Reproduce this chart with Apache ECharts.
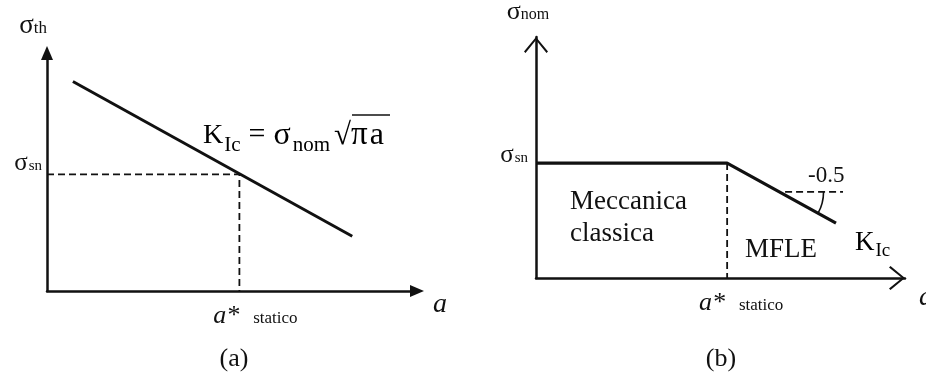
<!DOCTYPE html>
<html>
<head>
<meta charset="utf-8">
<script src="https://cdn.jsdelivr.net/npm/echarts@6/dist/echarts.min.js"></script>
<style>
  html, body { margin: 0; padding: 0; background: #fff; }
  #chart { width: 926px; height: 379px; }
</style>
</head>
<body>
<div id="chart"></div>
<script>
// (a) threshold stress versus crack size
const aLineX = [0.7, 8.25];
const aLineY = [8.8, 2.3];
const aStar = 5.2;          // critical static crack size
const aSigmaSn = 4.9;       // material strength level

// (b) nominal strength: plateau, then the LEFM branch
const bCurveX = [0, 5.18, 8.13];
const bCurveY = [4.77, 4.77, 2.28];
const bSlopeRefX = [6.75, 8.32];
const bSlopeRefY = [3.57, 3.57];
const bAngleMark = [6.6, 3.57];   // vertex of the slope angle

// tick labels and captions
const yTickLabel = ['σ', 'sn'];
const xTickLabel = ['a*', 'statico'];
const regionLabels = ['Meccanica\nclassica', 'MFLE'];
const slopeLabel = '-0.5';
const panelTags = ['(a)', '(b)'];

const SERIF = '"Liberation Serif", "Times New Roman", serif';
const INK = '#111';
const pairs = (xs, ys) => xs.map((x, i) => [x, ys[i]]);
// vertical centre of a line of text whose baseline sits at `baseline`
const mid = (baseline, size) => baseline - 0.3 * size;

const chart = echarts.init(document.getElementById('chart'), null, { renderer: 'canvas' });

const sigmaRich = {
  s: { fontFamily: SERIF, fontSize: 25, color: INK },
  sub: { fontFamily: SERIF, fontSize: 15, color: INK, padding: [6, 0, 0, 1] }
};
const starRich = {
  a: { fontFamily: SERIF, fontSize: 26, fontStyle: 'italic', color: INK },
  st: { fontFamily: SERIF, fontSize: 17, color: INK, padding: [6, 0, 0, 14] }
};
const chevron = 'path://M12,0 L24,14.5 L22.5,16 L12,3 L1.5,16 L0,14.5 Z';

function baseAxis(gridIndex) {
  return {
    type: 'value', gridIndex, min: 0, max: 10,
    splitLine: { show: false }, axisTick: { show: false }
  };
}
function crackName(padTop) {
  return {
    name: 'a', nameLocation: 'end',
    nameTextStyle: { fontFamily: SERIF, fontStyle: 'italic', fontSize: 28, color: INK,
      verticalAlign: 'top', lineHeight: 28, padding: [padTop, 0, 0, 0] }
  };
}

const option = {
  backgroundColor: '#fff',
  animation: false,
  grid: [
    { left: 47, top: 53, width: 370, height: 238, outerBoundsMode: 'none', containLabel: false },
    { left: 536, top: 37, width: 369, height: 241, outerBoundsMode: 'none', containLabel: false }
  ],
  xAxis: [
    Object.assign(baseAxis(0), crackName(0), {
      nameGap: 16,
      axisLine: { show: true, onZero: false, symbol: ['none', 'triangle'], symbolSize: [12, 14],
        lineStyle: { color: INK, width: 2.5 } },
      axisLabel: { customValues: [aStar], margin: 12, padding: [0, 0, 0, 32],
        formatter: () => '{a|' + xTickLabel[0] + '}{st|' + xTickLabel[1] + '}', rich: starRich }
    }),
    Object.assign(baseAxis(1), crackName(6), {
      nameGap: 14,
      axisLine: { show: true, onZero: false, symbol: ['none', chevron], symbolSize: [24, 16],
        symbolOffset: [0, -8], lineStyle: { color: INK, width: 2.5 } },
      axisLabel: { customValues: [bCurveX[1]], margin: 12, padding: [0, 0, 0, 28],
        formatter: () => '{a|' + xTickLabel[0] + '}{st|' + xTickLabel[1] + '}', rich: starRich }
    })
  ],
  yAxis: [
    Object.assign(baseAxis(0), {
      axisLine: { show: true, onZero: false, symbol: ['none', 'triangle'], symbolSize: [12, 14],
        lineStyle: { color: INK, width: 2.5 } },
      axisLabel: { customValues: [aSigmaSn], margin: 5, padding: [0, 0, 22, 0],
        formatter: () => '{s|' + yTickLabel[0] + '}{sub|' + yTickLabel[1] + '}', rich: sigmaRich },
      name: '{s|σ}{t|th}', nameLocation: 'end', nameGap: 14,
      nameTextStyle: { align: 'right', rich: {
        s: { fontFamily: SERIF, fontSize: 27, color: INK },
        t: { fontFamily: SERIF, fontSize: 17, color: INK, padding: [6, 0, 0, 0] }
      } }
    }),
    Object.assign(baseAxis(1), {
      axisLine: { show: true, onZero: false, symbol: ['none', chevron], symbolSize: [24, 16],
        symbolOffset: [0, -8], lineStyle: { color: INK, width: 2.5 } },
      axisLabel: { customValues: [bCurveY[1]], margin: 8, padding: [0, 0, 16, 0],
        formatter: () => '{s|' + yTickLabel[0] + '}{sub|' + yTickLabel[1] + '}', rich: sigmaRich },
      name: '{s|σ}{t|nom}', nameLocation: 'end', nameGap: 12,
      nameTextStyle: { align: 'center', padding: [0, 16, 0, 0], rich: {
        s: { fontFamily: SERIF, fontSize: 26, color: INK },
        t: { fontFamily: SERIF, fontSize: 16, color: INK, padding: [6, 0, 0, 0] }
      } }
    })
  ],
  series: [
    {
      type: 'line', xAxisIndex: 0, yAxisIndex: 0, data: pairs(aLineX, aLineY),
      symbol: 'none', silent: true, lineStyle: { color: INK, width: 3 }
    },
    {
      type: 'line', xAxisIndex: 0, yAxisIndex: 0,
      data: [[0, aSigmaSn], [aStar, aSigmaSn], [aStar, 0]],
      symbol: 'none', silent: true, lineStyle: { color: INK, width: 1.8, type: [7, 4] }
    },
    {
      type: 'line', xAxisIndex: 1, yAxisIndex: 1,
      data: [[bCurveX[1], bCurveY[1]], [bCurveX[1], 0]],
      symbol: 'none', silent: true, lineStyle: { color: INK, width: 1.8, type: [7, 4] }
    },
    {
      type: 'line', xAxisIndex: 1, yAxisIndex: 1, data: pairs(bSlopeRefX, bSlopeRefY),
      symbol: 'none', silent: true, lineStyle: { color: INK, width: 1.8, type: [7, 4] }
    },
    {
      type: 'line', xAxisIndex: 1, yAxisIndex: 1, data: pairs(bCurveX, bCurveY),
      symbol: 'none', silent: true, lineStyle: { color: INK, width: 3.2 }
    },
    {
      // small arc marking the slope angle between the reference dash and the LEFM branch
      type: 'custom', xAxisIndex: 1, yAxisIndex: 1, silent: true,
      data: [bAngleMark],
      renderItem(params, api) {
        const c = api.coord([api.value(0), api.value(1)]);
        const knee = api.coord([bCurveX[1], bCurveY[1]]);
        const end = api.coord([bCurveX[2], bCurveY[2]]);
        const ang = Math.atan2(end[1] - knee[1], end[0] - knee[0]);
        return {
          type: 'arc',
          shape: { cx: c[0], cy: c[1], r: 44, startAngle: 0, endAngle: ang, clockwise: true },
          style: { stroke: INK, fill: null, lineWidth: 1.6 }
        };
      }
    }
  ],
  graphic: [
    {
      type: 'text', x: 203, y: mid(144, 28),
      style: {
        text: '{k|K}{i|Ic}{e|=}{s|σ}{n|nom}{r|√}{pi|π}{a|a}',
        verticalAlign: 'middle',
        rich: {
          k: { fontFamily: SERIF, fontSize: 28, color: INK },
          i: { fontFamily: SERIF, fontSize: 21, color: INK, padding: [20, 0, 0, 1] },
          e: { fontFamily: SERIF, fontSize: 30, color: INK, padding: [0, 4, 0, 8] },
          s: { fontFamily: SERIF, fontSize: 32, color: INK, padding: [0, 1, 0, 4] },
          n: { fontFamily: SERIF, fontSize: 21, color: INK, padding: [20, 4, 0, 1] },
          r: { fontFamily: SERIF, fontSize: 31, color: INK },
          pi: { fontFamily: SERIF, fontSize: 33, color: INK, padding: [0, 2, 0, 0] },
          a: { fontFamily: SERIF, fontSize: 32, color: INK }
        }
      }
    },
    { type: 'line', shape: { x1: 352, y1: 115, x2: 390, y2: 115 }, style: { stroke: INK, lineWidth: 1.5 } },
    {
      type: 'text', x: 570, y: 186,
      style: { text: regionLabels[0], fontFamily: SERIF, fontSize: 27, lineHeight: 32, fill: INK, verticalAlign: 'top' }
    },
    {
      type: 'text', x: 745, y: mid(258, 27),
      style: { text: regionLabels[1], fontFamily: SERIF, fontSize: 27, fill: INK, verticalAlign: 'middle' }
    },
    {
      type: 'text', x: 855, y: mid(251, 27),
      style: {
        text: '{k|K}{i|Ic}', verticalAlign: 'middle',
        rich: {
          k: { fontFamily: SERIF, fontSize: 27, color: INK },
          i: { fontFamily: SERIF, fontSize: 19, color: INK, padding: [17, 0, 0, 1] }
        }
      }
    },
    {
      type: 'text', x: 808, y: mid(183, 22),
      style: { text: slopeLabel, fontFamily: SERIF, fontSize: 23, fill: INK, verticalAlign: 'middle' }
    },
    {
      type: 'text', x: 234, y: mid(367, 26),
      style: { text: panelTags[0], fontFamily: SERIF, fontSize: 26, fill: INK, align: 'center', verticalAlign: 'middle' }
    },
    {
      type: 'text', x: 721, y: mid(367, 26),
      style: { text: panelTags[1], fontFamily: SERIF, fontSize: 26, fill: INK, align: 'center', verticalAlign: 'middle' }
    }
  ]
};

chart.setOption(option);
</script>
</body>
</html>
